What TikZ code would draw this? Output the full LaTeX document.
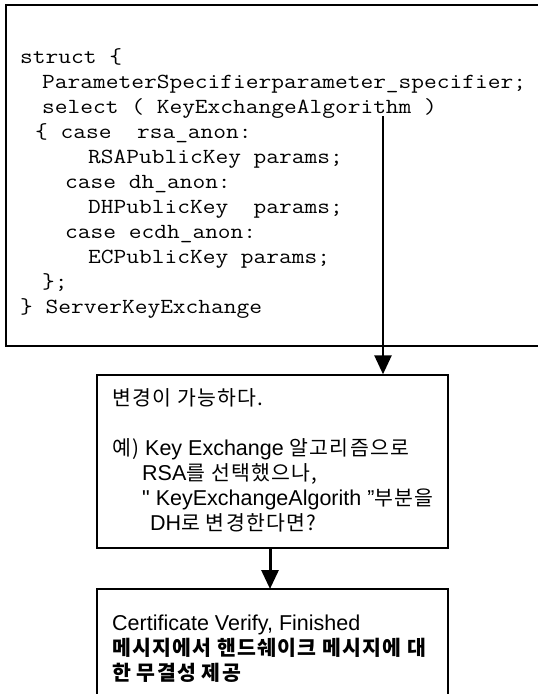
\documentclass[tikz,border=0pt]{standalone}
\usepackage{fontspec}
\setmainfont{Liberation Sans}
\newfontfamily\krfont{Noto Sans CJK KR}[LetterSpace=6]
\newfontfamily\codefont{lmmono12-regular}[Extension=.otf,FakeStretch=1.15]
\usetikzlibrary{arrows.meta}

\begin{document}
\begin{tikzpicture}[x=1pt,y=-1pt,
  code/.style={anchor=base west,inner sep=0pt,font=\codefont\fontsize{21.5}{24}\selectfont},
  note/.style={anchor=base west,inner sep=0pt,font=\fontsize{21.5}{24}\selectfont},
  kr/.style={font=\krfont\fontsize{20.5}{24}\selectfont},
  frame/.style={line width=1.4pt},
  box/.style={draw,line width=1.4pt,rectangle,inner sep=0pt},
  flow/.style={line width=2.6pt,-{Triangle[width=17pt,length=19pt]}}
]
\useasboundingbox (0,0) rectangle (538,694);

% the structure listing, framed on three sides
\draw[frame] (538,5) -- (6,5) -- (6,346) -- (538,346);
\node[code] (l1)  at (20,63)  {struct \{};
\node[code] (l2)  at (42,88)  {ParameterSpecifierparameter\_specifier;};
\node[code] (l3)  at (42,113) {select ( KeyExchangeAlgorithm )};
\node[code] (l4)  at (35,138) {\{ case\ \ rsa\_anon:};
\node[code] (l5)  at (88,163) {RSAPublicKey params;};
\node[code] (l6)  at (65,188) {case dh\_anon:};
\node[code] (l7)  at (88,213) {DHPublicKey\ \ params;};
\node[code] (l8)  at (65,238) {case ecdh\_anon:};
\node[code] (l9)  at (88,263) {ECPublicKey params;};
\node[code] (l10) at (42,288) {\};};
\node[code] (l11) at (20,313) {\} ServerKeyExchange};

% the note about changing the algorithm
\node[box,minimum width=351pt,minimum height=173pt] (change) at (272.5,461.5) {};
\node[note,kr] (c1) at (112,405) {변경이 가능하다.};
\node[note] (c2) at (112,455) {{\krfont\fontsize{20.5}{24}\selectfont 예)} Key Exchange {\krfont\fontsize{20.5}{24}\selectfont 알고리즘으로}};
\node[note] (c3) at (142,480) {RSA{\krfont\fontsize{20.5}{24}\selectfont 를 선택했으나,}};
\node[note] (c4) at (142,505) {\textquotedbl{} KeyExchangeAlgorith ”{\krfont\fontsize{20.5}{24}\selectfont 부분을}};
\node[note] (c5) at (150,530) {DH{\krfont\fontsize{20.5}{24}\selectfont 로 변경한다면?}};

% the integrity note, open at the bottom
\draw[frame] (97,694) -- (97,589) -- (448,589) -- (448,694);
\coordinate (integrity) at (270,589);
\node[note] (i1) at (112,630) {Certificate Verify, Finished};
\node[note,kr] (i2) at (112,655) {\bfseries 메시지에서 핸드쉐이크 메시지에 대};
\node[note,kr] (i3) at (112,680) {\bfseries 한 무결성 제공};

% connectors
\coordinate (sel) at (383,116);
\draw[flow] (sel) -- (sel |- change.north);
\draw[flow,line width=3pt] (change.south -| integrity) -- (integrity);
\end{tikzpicture}
\end{document}
